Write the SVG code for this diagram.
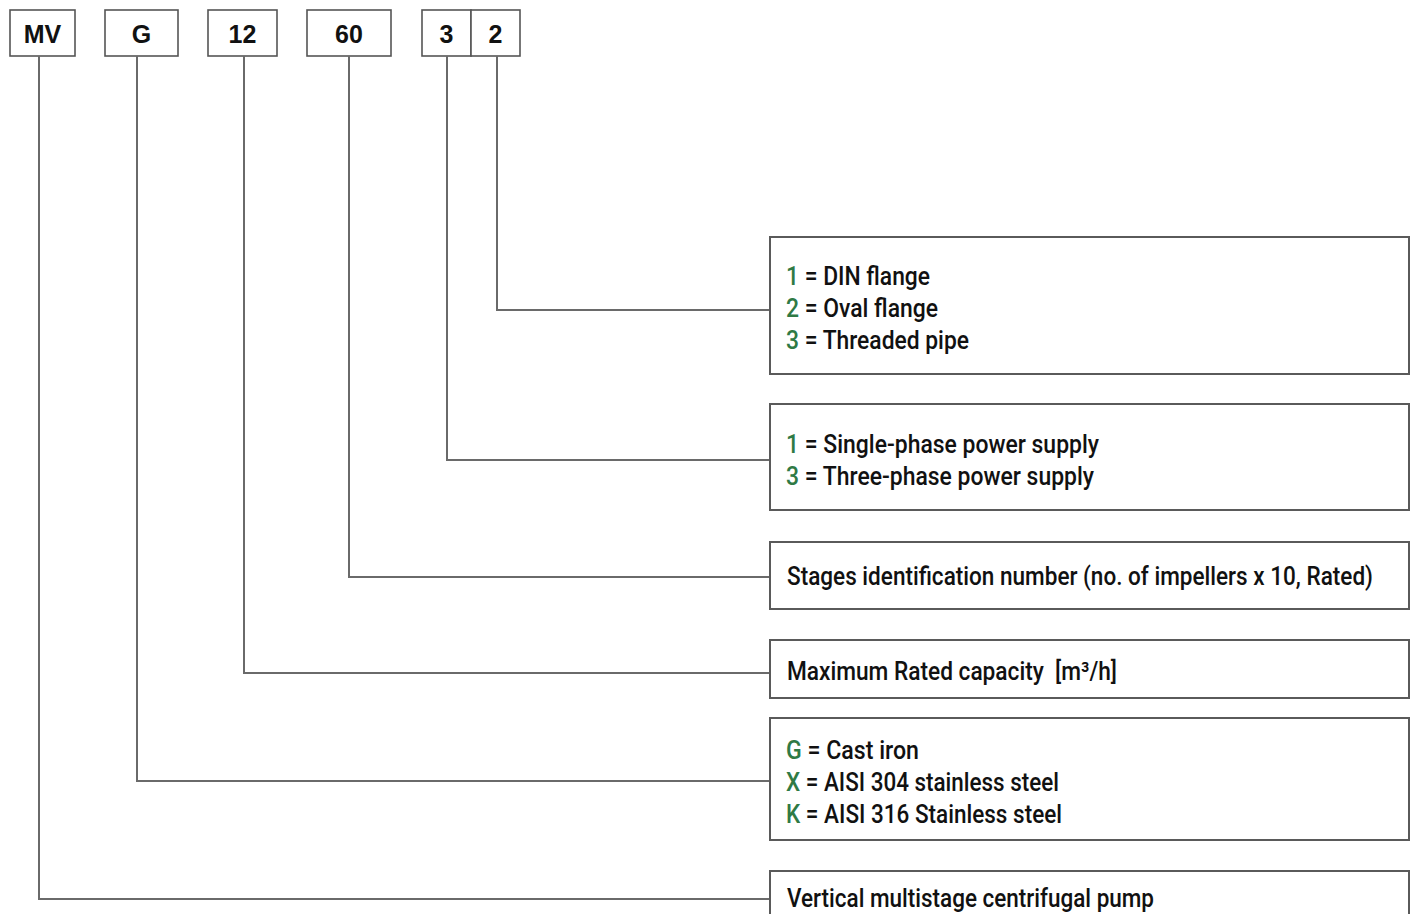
<svg xmlns="http://www.w3.org/2000/svg" width="1416" height="914" viewBox="0 0 1416 914">
<style>
.code{fill:#fff;stroke:#555;stroke-width:1.6}
.ct{font-family:"Liberation Sans",Arial,sans-serif;font-weight:bold;font-size:25px;fill:#111;text-anchor:middle}
.box{fill:#fff;stroke:#5a5a5a;stroke-width:2}
.t{font-family:Roboto,"Liberation Sans",sans-serif;font-weight:500;font-size:25px;fill:#111}
.g{fill:#2f7a45}
.conn{fill:none;stroke:#6a6a6a;stroke-width:2}
</style>
<rect width="1416" height="914" fill="#fff"/>
<g id="codes">
  <g id="code-MV"><rect class="code" x="10" y="10" width="65" height="46"/><text class="ct" x="42.5" y="43">MV</text></g>
  <g id="code-G"><rect class="code" x="105" y="10" width="73" height="46"/><text class="ct" x="141.5" y="43">G</text></g>
  <g id="code-12"><rect class="code" x="208" y="10" width="69" height="46"/><text class="ct" x="242.5" y="43">12</text></g>
  <g id="code-60"><rect class="code" x="307" y="10" width="84" height="46"/><text class="ct" x="349" y="43">60</text></g>
  <g id="code-3"><rect class="code" x="422" y="10" width="49" height="46"/><text class="ct" x="446.5" y="43">3</text></g>
  <g id="code-2"><rect class="code" x="471" y="10" width="49" height="46"/><text class="ct" x="495.5" y="43">2</text></g>
</g>
<g id="connectors">
  <polyline class="conn" points="39,56 39,899 770,899"/>
  <polyline class="conn" points="137,56 137,781 770,781"/>
  <polyline class="conn" points="244,56 244,673 770,673"/>
  <polyline class="conn" points="349,56 349,577 770,577"/>
  <polyline class="conn" points="447,56 447,460 770,460"/>
  <polyline class="conn" points="497,56 497,310 770,310"/>
</g>
<g id="desc-flange">
  <rect class="box" x="770" y="237" width="639" height="137"/>
  <text class="t" x="786" y="285" textLength="144" lengthAdjust="spacingAndGlyphs"><tspan class="g">1</tspan> = DIN flange</text>
  <text class="t" x="786" y="317" textLength="152" lengthAdjust="spacingAndGlyphs"><tspan class="g">2</tspan> = Oval flange</text>
  <text class="t" x="786" y="349" textLength="183" lengthAdjust="spacingAndGlyphs"><tspan class="g">3</tspan> = Threaded pipe</text>
</g>
<g id="desc-power">
  <rect class="box" x="770" y="404" width="639" height="106"/>
  <text class="t" x="786" y="453" textLength="313" lengthAdjust="spacingAndGlyphs"><tspan class="g">1</tspan> = Single-phase power supply</text>
  <text class="t" x="786" y="485" textLength="308" lengthAdjust="spacingAndGlyphs"><tspan class="g">3</tspan> = Three-phase power supply</text>
</g>
<g id="desc-stages">
  <rect class="box" x="770" y="542" width="639" height="67"/>
  <text class="t" x="787" y="585" textLength="586" lengthAdjust="spacingAndGlyphs">Stages identification number (no. of impellers x 10, Rated)</text>
</g>
<g id="desc-capacity">
  <rect class="box" x="770" y="640" width="639" height="58"/>
  <text class="t" x="787" y="680" textLength="330" lengthAdjust="spacingAndGlyphs" xml:space="preserve">Maximum Rated capacity  [m³/h]</text>
</g>
<g id="desc-material">
  <rect class="box" x="770" y="718" width="639" height="122"/>
  <text class="t" x="786" y="759" textLength="133" lengthAdjust="spacingAndGlyphs"><tspan class="g">G</tspan> = Cast iron</text>
  <text class="t" x="786" y="791" textLength="273" lengthAdjust="spacingAndGlyphs"><tspan class="g">X</tspan> = AISI 304 stainless steel</text>
  <text class="t" x="786" y="823" textLength="276" lengthAdjust="spacingAndGlyphs"><tspan class="g">K</tspan> = AISI 316 Stainless steel</text>
</g>
<g id="desc-type">
  <rect class="box" x="770" y="871" width="639" height="60"/>
  <text class="t" x="787" y="907" textLength="367" lengthAdjust="spacingAndGlyphs">Vertical multistage centrifugal pump</text>
</g>
</svg>
